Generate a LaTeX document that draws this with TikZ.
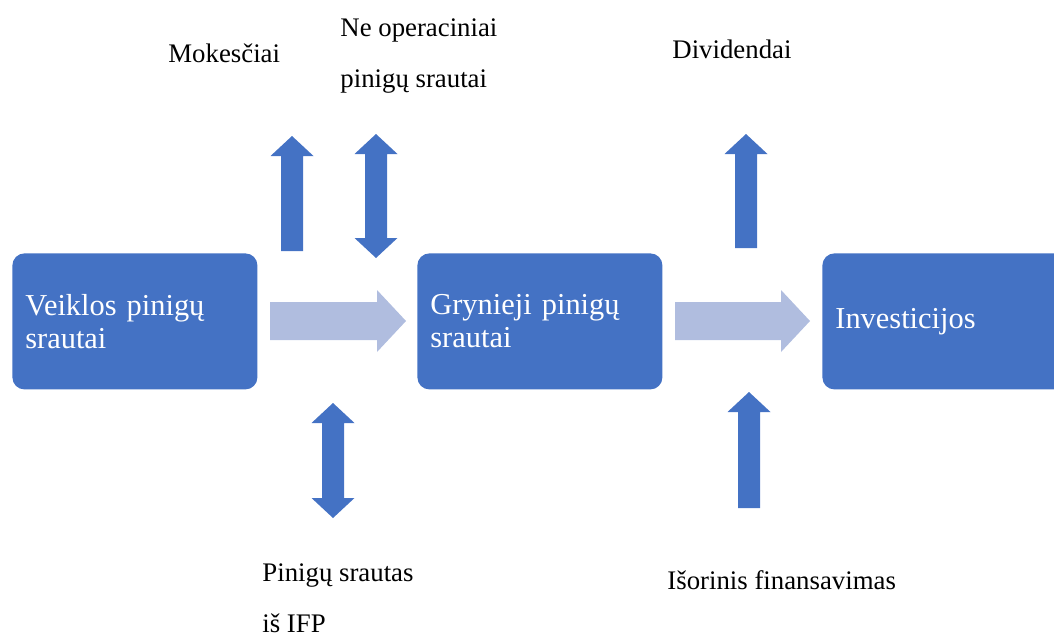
\documentclass[tikz,border=0pt]{standalone}
\usepackage{fontspec}
\setmainfont{Liberation Serif}
\usetikzlibrary{positioning}

\definecolor{boxblue}{RGB}{68,114,196}
\definecolor{flowlight}{RGB}{176,189,223}

% blokines rodykles (x, y pikseliais)
\newcommand{\blockright}[3]{% uodega x, smaigalys x, centras y
  \fill[flowlight] (#1,#3-19) -- (#2-29,#3-19) -- (#2-29,#3-31) -- (#2,#3)
    -- (#2-29,#3+31) -- (#2-29,#3+19) -- (#1,#3+19) -- cycle;}
\newcommand{\blockup}[3]{% centras x, apacia y, smaigalys y
  \fill[boxblue] (#1-11,#2) -- (#1-11,#3+20) -- (#1-21.5,#3+20) -- (#1,#3)
    -- (#1+21.5,#3+20) -- (#1+11,#3+20) -- (#1+11,#2) -- cycle;}
\newcommand{\blockupdown}[3]{% centras x, virsus y, apacia y
  \fill[boxblue] (#1,#2) -- (#1+21.5,#2+20) -- (#1+11,#2+20) -- (#1+11,#3-20)
    -- (#1+21.5,#3-20) -- (#1,#3) -- (#1-21.5,#3-20) -- (#1-11,#3-20)
    -- (#1-11,#2+20) -- (#1-21.5,#2+20) -- cycle;}

\begin{document}
\begin{tikzpicture}[x=0.5pt, y=-0.5pt,
    box/.style={fill=boxblue, rounded corners=6pt, text=white, align=left,
      anchor=north west, minimum width=122.5pt, minimum height=68pt,
      text width=109.5pt, inner xsep=6pt, inner ysep=6pt,
      font=\fontsize{15.2}{16.5}\selectfont},
    lbl/.style={anchor=base west, inner sep=0pt, align=left,
      font=\fontsize{13.4}{25.5}\selectfont}]

  \useasboundingbox (0,0) rectangle (1054,637);

  % --- BLOKAI ---
  \node[box] (veikla) at (12,253) {Veiklos pinigų\\srautai};
  \node[box] (grynieji) at (417,253) {Grynieji pinigų\\srautai};
  \node[box, inner xsep=5pt] (invest) at (822,253) {Investicijos};

  % --- RODYKLES TARP BLOKU ---
  \blockright{270}{406}{321}
  \blockright{675}{810}{321}

  % --- VERTIKALIOS RODYKLES ---
  \blockup{292}{251}{136}
  \blockupdown{376}{134}{258}
  \blockupdown{333}{403}{518}
  \blockup{746}{248}{134}
  \blockup{749}{508}{392}

  % --- UZRASAI (base = paskutines eilutes pagrindas) ---
  \node[lbl] (mokesciai) at (168,62) {Mokesčiai};
  \node[lbl] (neoper) at (340,87) {Ne operaciniai\\pinigų srautai};
  \node[lbl] (dividendai) at (672,58) {Dividendai};
  \node[lbl] (ifp) at (262,632) {Pinigų srautas\\iš IFP};
  \node[lbl] (isorinis) at (667,589) {Išorinis finansavimas};

\end{tikzpicture}
\end{document}
